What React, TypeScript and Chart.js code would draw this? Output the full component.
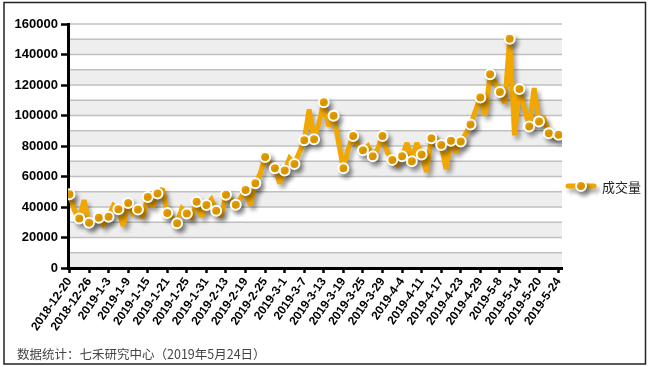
import React, { useEffect, useRef } from 'react';
import { Chart, registerables } from 'chart.js';

Chart.register(...registerables);

// Trading days (category axis)
const dates: string[] = [
  '2018-12-20', '2018-12-21', '2018-12-24', '2018-12-25', '2018-12-26', '2018-12-27', '2018-12-28',
  '2019-1-2', '2019-1-3', '2019-1-4', '2019-1-7', '2019-1-8', '2019-1-9', '2019-1-10', '2019-1-11',
  '2019-1-14', '2019-1-15', '2019-1-16', '2019-1-17', '2019-1-18', '2019-1-21', '2019-1-22', '2019-1-23',
  '2019-1-24', '2019-1-25', '2019-1-28', '2019-1-29', '2019-1-30', '2019-1-31', '2019-2-1',
  '2019-2-11', '2019-2-12', '2019-2-13', '2019-2-14', '2019-2-15', '2019-2-18', '2019-2-19', '2019-2-20',
  '2019-2-21', '2019-2-22', '2019-2-25', '2019-2-26', '2019-2-27', '2019-2-28', '2019-3-1',
  '2019-3-4', '2019-3-5', '2019-3-6', '2019-3-7', '2019-3-8', '2019-3-11', '2019-3-12', '2019-3-13',
  '2019-3-14', '2019-3-15', '2019-3-18', '2019-3-19', '2019-3-20', '2019-3-21', '2019-3-22', '2019-3-25',
  '2019-3-26', '2019-3-27', '2019-3-28', '2019-3-29', '2019-4-1', '2019-4-2', '2019-4-3', '2019-4-4',
  '2019-4-8', '2019-4-9', '2019-4-10', '2019-4-11', '2019-4-12', '2019-4-15', '2019-4-16', '2019-4-17',
  '2019-4-18', '2019-4-19', '2019-4-22', '2019-4-23', '2019-4-24', '2019-4-25', '2019-4-26', '2019-4-29',
  '2019-4-30', '2019-5-6', '2019-5-7', '2019-5-8', '2019-5-9', '2019-5-10', '2019-5-13', '2019-5-14',
  '2019-5-15', '2019-5-16', '2019-5-17', '2019-5-20', '2019-5-21', '2019-5-22', '2019-5-23', '2019-5-24',
];

// 成交量 (volume)
const volume: number[] = [
  48300, 38000, 32500, 44500, 29700, 31000, 32900, 28500, 33600, 41000,
  38500, 27500, 42600, 36000, 38400, 33000, 46500, 40000, 48900, 52000,
  36000, 33000, 29400, 39000, 35800, 33500, 43400, 33500, 41300, 45000,
  37500, 34000, 48000, 45000, 41500, 46000, 51100, 41000, 55500, 62000,
  72800, 68000, 65400, 55500, 64000, 72000, 68200, 76000, 83800, 104000,
  84500, 95000, 108700, 93000, 99900, 83000, 65400, 78000, 86600, 80000,
  77200, 80000, 73200, 78000, 86600, 76000, 70900, 68000, 73200, 82000,
  70000, 82000, 74500, 63000, 85100, 85000, 80700, 65000, 83500, 76000,
  82900, 88000, 94100, 103000, 111800, 100000, 127000, 122000, 115400, 108000,
  150400, 87000, 117400, 105000, 92800, 118000, 96000, 98000, 88400, 86000,
  87300,
];

const seriesName = '成交量';
const footnote = '数据统计：七禾研究中心（2019年5月24日）';
const yMax = 160000;
const yLabelStep = 20000;
const bandStep = 10000;
const xLabelEvery = 4;

export default function App() {
  const ref = useRef<HTMLCanvasElement>(null);

  useEffect(() => {
    document.body.style.margin = '0';
    const canvas = ref.current;
    if (!canvas) return;
    const ORANGE = '#F2A700';
    const SHADOW = 'rgba(0,0,0,0.35)';

    const decor = {
      id: 'decor',
      beforeDraw(chart: any) {
        const { ctx, chartArea: a, scales } = chart;
        const y = scales.y;
        ctx.save();
        ctx.fillStyle = '#ffffff';
        ctx.fillRect(0, 0, chart.width, chart.height);
        for (let v = 0; v < yMax; v += bandStep) {
          const y0 = y.getPixelForValue(v);
          const y1 = y.getPixelForValue(v + bandStep);
          ctx.fillStyle = (v / bandStep) % 2 === 0 ? '#EEEEEE' : '#FFFFFF';
          ctx.fillRect(a.left, y1, a.right - a.left, y0 - y1);
        }
        ctx.strokeStyle = '#C0C0C0';
        ctx.lineWidth = 1.5;
        for (let v = bandStep; v <= yMax; v += bandStep) {
          const py = y.getPixelForValue(v);
          ctx.beginPath();
          ctx.moveTo(a.left, py);
          ctx.lineTo(a.right, py);
          ctx.stroke();
        }
        ctx.restore();
      },
      beforeDatasetsDraw(chart: any) {
        const ctx = chart.ctx;
        ctx.save();
        ctx.miterLimit = 2;
        ctx.shadowColor = SHADOW;
        ctx.shadowBlur = 4;
        ctx.shadowOffsetX = 3;
        ctx.shadowOffsetY = 4;
      },
      afterDatasetsDraw(chart: any) {
        chart.ctx.restore();
      },
      afterDraw(chart: any) {
        const ctx = chart.ctx;
        ctx.save();
        // legend
        const ly = 186;
        ctx.shadowColor = SHADOW;
        ctx.shadowBlur = 4;
        ctx.shadowOffsetX = 3;
        ctx.shadowOffsetY = 4;
        ctx.strokeStyle = ORANGE;
        ctx.lineWidth = 5;
        ctx.lineCap = 'round';
        ctx.beginPath();
        ctx.moveTo(568, ly);
        ctx.lineTo(594, ly);
        ctx.stroke();
        ctx.beginPath();
        ctx.arc(581, ly, 5, 0, Math.PI * 2);
        ctx.fillStyle = ORANGE;
        ctx.fill();
        ctx.lineWidth = 2;
        ctx.strokeStyle = '#ffffff';
        ctx.stroke();
        ctx.shadowColor = 'transparent';
        ctx.fillStyle = '#222222';
        ctx.font = '13px "Noto Sans CJK SC", sans-serif';
        ctx.textBaseline = 'middle';
        ctx.textAlign = 'left';
        ctx.fillText(seriesName, 602, ly + 1);
        // footnote
        ctx.fillStyle = '#444444';
        ctx.font = '12.5px "Noto Sans CJK SC", sans-serif';
        ctx.fillText(footnote, 17, 354);
        // outer frame
        ctx.strokeStyle = '#222222';
        ctx.lineWidth = 1.5;
        ctx.strokeRect(4, 2.5, 641.5, 361.5);
        ctx.restore();
      },
    };

    const chart = new Chart(canvas, {
      type: 'line',
      data: {
        datasets: [
          {
            label: seriesName,
            data: volume.map((v, i) => ({ x: i, y: v })),
            borderColor: ORANGE,
            backgroundColor: ORANGE,
            borderWidth: 5,
            borderJoinStyle: 'miter',
            tension: 0,
            fill: false,
            pointRadius: (c: any) => (c.dataIndex % 2 === 0 ? 5 : 0),
            pointHoverRadius: (c: any) => (c.dataIndex % 2 === 0 ? 5 : 0),
            pointBackgroundColor: ORANGE,
            pointBorderColor: '#ffffff',
            pointBorderWidth: 2,
          },
        ],
      },
      options: {
        responsive: false,
        animation: false,
        devicePixelRatio: 1,
        layout: { padding: { left: 0, right: 89, top: 24, bottom: 30 } },
        plugins: { legend: { display: false }, tooltip: { enabled: false } },
        scales: {
          x: {
            type: 'linear',
            min: -0.3,
            max: dates.length - 1 + 0.7,
            afterBuildTicks: (scale: any) => {
              scale.ticks = dates
                .map((_, i) => i)
                .filter((i) => i % xLabelEvery === 0)
                .map((v) => ({ value: v }));
            },
            afterFit: (scale: any) => {
              scale.height = 69;
            },
            grid: {
              drawOnChartArea: false,
              tickLength: 5,
              tickWidth: 2.5,
              tickColor: '#000000',
            },
            border: { display: true, color: '#000000', width: 3 },
            ticks: {
              autoSkip: false,
              maxRotation: 55,
              minRotation: 55,
              padding: 2,
              color: '#000000',
              font: { family: 'Arial, "Liberation Sans", sans-serif', size: 12, weight: 'bold' },
              callback: (v: any) => dates[v as number],
            },
          },
          y: {
            min: 0,
            max: yMax,
            afterFit: (scale: any) => {
              scale.width = 68;
            },
            grid: {
              drawOnChartArea: false,
              tickLength: 7,
              tickWidth: 2.5,
              tickColor: '#000000',
            },
            border: { display: true, color: '#000000', width: 3 },
            ticks: {
              stepSize: yLabelStep,
              padding: 3,
              color: '#000000',
              font: { family: 'Arial, "Liberation Sans", sans-serif', size: 13, weight: 'bold' },
              callback: (v: any) => String(v),
            },
          },
        },
      },
      plugins: [decor],
    } as any);

    return () => chart.destroy();
  }, []);

  return (
    <div style={{ position: 'absolute', left: 0, top: 0, width: 651, height: 367 }}>
      <canvas ref={ref} width={651} height={367} style={{ display: 'block' }} />
    </div>
  );
}
